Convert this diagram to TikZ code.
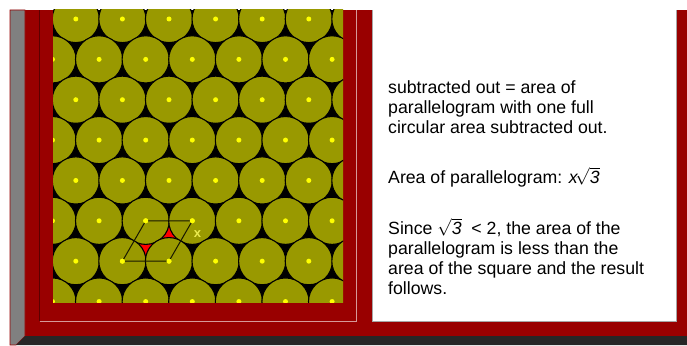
\documentclass[tikz,border=0pt]{standalone}
\usepackage{fontspec}
\setmainfont{Liberation Sans}
\usepackage{tikz}

\definecolor{maroon}{RGB}{153,0,0}
\definecolor{olive}{RGB}{153,153,0}
\definecolor{barcol}{RGB}{38,38,38}
\definecolor{dotcol}{RGB}{255,255,0}
\definecolor{labcol}{RGB}{235,235,80}

\begin{document}
\begin{tikzpicture}[
    x=1pt, y=-1pt,
    ball/.style={fill=olive, draw=black, line width=1.1pt},
    dot/.style={circle, fill=dotcol, inner sep=0pt, minimum size=5pt},
    edge/.style={draw=black!85!olive, line width=1pt},
    para/.style={inner sep=0pt, anchor=base west, align=left, font=\fontsize{17.7}{20}\selectfont}
]
\useasboundingbox (0,0) rectangle (687,345);
% frame of the page
\fill[maroon] (25,10) rectangle (687,336);
\filldraw[fill=black!50, draw=maroon, line width=0.6pt] (10,10) -- (25,10) -- (25,336) -- (16,345) -- (10,345) -- cycle;
\fill[barcol] (25,336) -- (687,336) -- (687,345) -- (16,345) -- cycle;
\draw[maroon!60!black, line width=0.8pt] (39.5,321) -- (39.5,10);
\draw[maroon!40!white, line width=0.8pt] (39.5,321) -- (356.5,321) -- (356.5,10);
% packed circles
\begin{scope}
\clip (53,10) rectangle (343,302);
\fill[black] (53,10) rectangle (343,302);
\coordinate (pa) at (145.7,220.8);
\coordinate (pb) at (192.3,220.8);
\coordinate (pc) at (122.4,261.2);
\coordinate (pd) at (169.0,261.2);
\fill[red] (pa) -- (pb) -- (pd) -- (pc) -- cycle;
\foreach \j in {-1,...,8} {
  \foreach \i in {-1,...,7} {
    \pgfmathsetmacro\bx{75.8+46.6*\i+mod(\j+2,2)*23.3}
    \pgfmathsetmacro\by{19+40.36*\j}
    \path[ball] (\bx,\by) circle[radius=23.6pt];
    \node[dot] at (\bx,\by) {};
  }
}
\draw[edge] (pa) -- (pb) -- (pd) -- (pc) -- cycle;
\foreach \p in {pa,pb,pc,pd} \node[dot] at (\p) {};
\node[text=labcol, font=\fontsize{13}{13}\selectfont\bfseries, inner sep=0pt] (xlab) at (197.5,234.5) {x};
\end{scope}
% text panel
\fill[white] (372.5,0) rectangle (676.5,321);
\draw[black!35, line width=0.9pt] (372.5,10) -- (372.5,321) -- (676.5,321) -- (676.5,10);
\node[para] (area) at (388,133) {subtracted out = area of\\
    parallelogram with one full\\
    circular area subtracted out.};
\node[para] (paral) at (388,183) {Area of parallelogram: \textit{x}$\!\sqrt{\mathit{3}}$};
\node[para] (since) at (388,294) {Since $\sqrt{\mathit{3}}$\ \ < 2, the area of the\\
    parallelogram is less than the\\
    area of the square and the result\\
    follows.};
\end{tikzpicture}
\end{document}
